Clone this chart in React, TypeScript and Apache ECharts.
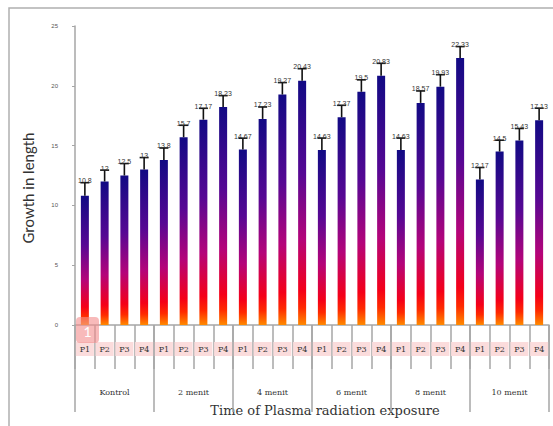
import React, { useEffect, useRef } from "react";
import * as echarts from "echarts";

const groups = ["Kontrol", "2 menit", "4 menit", "6 menit", "8 menit", "10 menit"];
const subLabels = ["P1", "P2", "P3", "P4"];
const values = [
  10.8, 12, 12.5, 13,
  13.8, 15.7, 17.17, 18.23,
  14.67, 17.23, 19.27, 20.43,
  14.63, 17.37, 19.5, 20.83,
  14.63, 18.57, 19.93, 22.33,
  12.17, 14.5, 15.43, 17.13,
];
const errors = [
  1.1, 0.95, 1, 1,
  1, 1, 0.95, 0.95,
  0.95, 1, 1, 1,
  1, 1, 1, 1.05,
  1, 1, 1, 0.95,
  1, 0.95, 1, 1,
];
const yTicks = { min: 0, max: 25, interval: 5 };

export default function App() {
  const ref = useRef<HTMLDivElement>(null);
  useEffect(() => {
    document.body.style.margin = "0";
    const chart = echarts.init(ref.current!, null, { renderer: "svg" });
    const categories: string[] = [];
    groups.forEach((g) => subLabels.forEach((p) => categories.push(g + "|" + p)));
    const gray = "#a6a6a6";
    const serif = "'DejaVu Serif', 'Liberation Serif', serif";
    const barGradient = new echarts.graphic.LinearGradient(0, 0, 0, 1, [
      { offset: 0, color: "#120a84" },
      { offset: 0.38, color: "#560894" },
      { offset: 0.65, color: "#b4047a" },
      { offset: 0.86, color: "#f50018" },
      { offset: 0.93, color: "#ff2a00" },
      { offset: 1, color: "#ff8a00" },
    ]);
    chart.setOption({
      animation: false,
      grid: { left: 75, right: 4, top: 26, bottom: 101, containLabel: false },
      xAxis: [
        {
          type: "category",
          data: categories,
          position: "bottom",
          offset: 0,
          axisLine: { show: true, lineStyle: { color: gray, width: 1.5 } },
          axisTick: { show: true, interval: 0, length: 44, lineStyle: { color: gray, width: 1.5 } },
          axisLabel: {
            interval: 0,
            margin: 17,
            formatter: (v: string) => v.split("|")[1],
            fontFamily: serif,
            fontSize: 8,
            color: "#333",
            backgroundColor: "#fbdcdc",
            padding: [3, 1],
            width: 16,
            align: "center",
          },
        },
        {
          type: "category",
          data: groups,
          position: "bottom",
          offset: 0,
          axisLine: { show: false },
          axisTick: { show: true, interval: 0, length: 87, lineStyle: { color: gray, width: 1.5 } },
          axisLabel: { interval: 0, margin: 63, fontFamily: serif, fontSize: 8, color: "#333" },
        },
      ],
      yAxis: {
        type: "value",
        min: yTicks.min,
        max: yTicks.max,
        interval: yTicks.interval,
        axisLine: { show: true, lineStyle: { color: gray, width: 1.5 } },
        axisTick: { show: true, length: 3, lineStyle: { color: gray } },
        splitLine: { show: false },
        axisLabel: { fontSize: 6, color: "#555", margin: 17, fontFamily: "'Liberation Sans', sans-serif" },
      },
      series: [
        {
          type: "bar",
          xAxisIndex: 0,
          data: values,
          barWidth: 8,
          itemStyle: { color: barGradient },
        },
        {
          type: "custom",
          xAxisIndex: 0,
          data: values.map((v, i) => [i, v, errors[i]]),
          z: 5,
          renderItem: (params: any, api: any) => {
            const x = api.value(0);
            const v = api.value(1);
            const e = api.value(2);
            const base = api.coord([x, v]);
            const top = api.coord([x, v + e]);
            return {
              type: "group",
              children: [
                { type: "line", shape: { x1: base[0], y1: base[1], x2: top[0], y2: top[1] }, style: { stroke: "#111", lineWidth: 1.6 } },
                { type: "line", shape: { x1: top[0] - 4.5, y1: top[1], x2: top[0] + 4.5, y2: top[1] }, style: { stroke: "#111", lineWidth: 1.6 } },
                {
                  type: "text",
                  x: top[0],
                  y: top[1] + 1.5,
                  style: {
                    text: String(v),
                    fontSize: 7,
                    fill: "#333",
                    align: "center",
                    verticalAlign: "bottom",
                    fontFamily: "'Liberation Sans', sans-serif",
                  },
                },
              ],
            };
          },
        },
      ],
      graphic: [
        {
          type: "rect",
          shape: { x: 9, y: 8, width: 600, height: 500 },
          style: { fill: "none", stroke: "#b0b0b0", lineWidth: 1.5 },
          silent: true,
          z: -10,
        },
        {
          type: "text",
          x: 28,
          y: 188,
          rotation: Math.PI / 2,
          style: {
            text: "Growth in length",
            fill: "#333",
            fontSize: 15,
            align: "center",
            verticalAlign: "middle",
            fontFamily: "Lato, 'Open Sans', sans-serif",
          },
        },
        {
          type: "text",
          x: 325,
          y: 410,
          style: {
            text: "Time of Plasma radiation exposure",
            fill: "#333",
            fontSize: 13,
            align: "center",
            verticalAlign: "middle",
            fontFamily: serif,
          },
        },
        {
          type: "rect",
          shape: { x: 76, y: 317, width: 23, height: 26, r: 4 },
          style: { fill: "rgba(244,140,140,0.6)" },
          z: 100,
        },
        {
          type: "text",
          x: 87.5,
          y: 331,
          style: { text: "1", fill: "#fff", fontSize: 14, align: "center", verticalAlign: "middle", fontFamily: "Lato, sans-serif" },
          z: 101,
        },
      ],
    });
    return () => chart.dispose();
  }, []);
  return <div ref={ref} style={{ width: 553, height: 426 }} />;
}
